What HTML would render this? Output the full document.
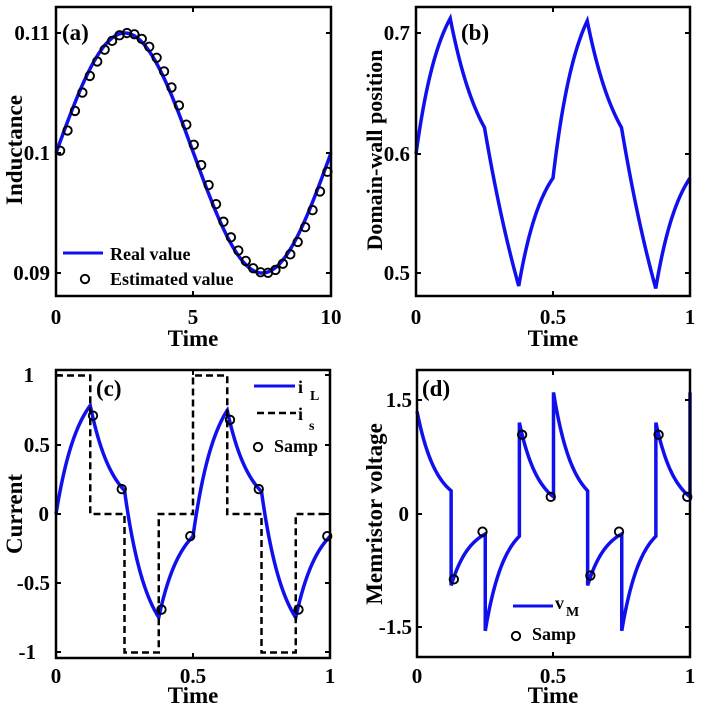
<!DOCTYPE html>
<html><head><meta charset="utf-8"><style>
html,body{margin:0;padding:0;background:#fff;}
svg{display:block;}
text{font-family:"Liberation Serif",serif;font-weight:bold;fill:#000;}
</style></head><body>
<svg id="s" width="701" height="706" xmlns="http://www.w3.org/2000/svg">
<g id="g"></g>
<g font-size="21">
<text x="50" y="40" text-anchor="end">0.11</text>
<text x="50" y="160" text-anchor="end">0.1</text>
<text x="50" y="280" text-anchor="end">0.09</text>
<text x="56" y="324" text-anchor="middle">0</text>
<text x="193" y="324" text-anchor="middle">5</text>
<text x="331" y="324" text-anchor="middle">10</text>
<text x="193" y="346" text-anchor="middle" font-size="23">Time</text>
<text transform="translate(22,150) rotate(-90)" text-anchor="middle" font-size="23">Inductance</text>
<text x="62" y="40" font-size="23">(a)</text>
<text x="110" y="260" font-size="18">Real value</text>
<text x="110" y="285" font-size="18">Estimated value</text>

<text x="410" y="40" text-anchor="end">0.7</text>
<text x="410" y="161" text-anchor="end">0.6</text>
<text x="410" y="280" text-anchor="end">0.5</text>
<text x="416" y="324" text-anchor="middle">0</text>
<text x="553" y="324" text-anchor="middle">0.5</text>
<text x="690" y="324" text-anchor="middle">1</text>
<text x="553" y="346" text-anchor="middle" font-size="23">Time</text>
<text transform="translate(382,150) rotate(-90)" text-anchor="middle" font-size="22">Domain-wall position</text>
<text x="461" y="40" font-size="23">(b)</text>

<text x="34" y="382" text-anchor="end">1</text>
<text x="50" y="452" text-anchor="end">0.5</text>
<text x="49" y="521" text-anchor="end">0</text>
<text x="50" y="590" text-anchor="end">-0.5</text>
<text x="36" y="659" text-anchor="end">-1</text>
<text x="56" y="683" text-anchor="middle">0</text>
<text x="193" y="683" text-anchor="middle">0.5</text>
<text x="330" y="683" text-anchor="middle">1</text>
<text x="193" y="703" text-anchor="middle" font-size="23">Time</text>
<text transform="translate(22,514) rotate(-90)" text-anchor="middle" font-size="23">Current</text>
<text x="96" y="396" font-size="23">(c)</text>
<text x="298" y="393" font-size="18">i</text><text x="310" y="400" font-size="14">L</text>
<text x="298" y="420" font-size="18">i</text><text x="309" y="430" font-size="14">s</text>
<text x="274" y="452" font-size="18">Samp</text>

<text x="412" y="407" text-anchor="end">1.5</text>
<text x="409" y="521" text-anchor="end">0</text>
<text x="412" y="634" text-anchor="end">-1.5</text>
<text x="417" y="683" text-anchor="middle">0</text>
<text x="553" y="683" text-anchor="middle">0.5</text>
<text x="690" y="683" text-anchor="middle">1</text>
<text x="553" y="703" text-anchor="middle" font-size="23">Time</text>
<text transform="translate(382,514) rotate(-90)" text-anchor="middle" font-size="23">Memristor voltage</text>
<text x="422" y="396" font-size="23">(d)</text>
<text x="555" y="609" font-size="18">v</text><text x="566" y="616" font-size="14">M</text>
<text x="532" y="640" font-size="18">Samp</text>
</g>
</svg>
<script>
var g=document.getElementById('g'),NS='http://www.w3.org/2000/svg';
function el(t,a){var e=document.createElementNS(NS,t);for(var k in a)e.setAttribute(k,a[k]);g.appendChild(e);return e;}
function path(pts,a){var d='M'+pts.map(function(p){return p[0].toFixed(2)+','+p[1].toFixed(2)}).join('L');a.d=d;a.fill='none';return el('path',a);}
function circ(x,y){el('circle',{cx:x,cy:y,r:4.2,fill:'none',stroke:'#000','stroke-width':1.9});}
function box(l,t,r,b,xt,yt){
  el('rect',{x:l,y:t,width:r-l,height:b-t,fill:'none',stroke:'#000','stroke-width':2.5});
  xt.forEach(function(x){el('line',{x1:x,y1:b,x2:x,y2:b-5,stroke:'#000','stroke-width':2});el('line',{x1:x,y1:t,x2:x,y2:t+5,stroke:'#000','stroke-width':2});});
  yt.forEach(function(y){el('line',{x1:l,y1:y,x2:l+5,y2:y,stroke:'#000','stroke-width':2});el('line',{x1:r,y1:y,x2:r-5,y2:y,stroke:'#000','stroke-width':2});});
}
var BL='#1010ee';
(function(){
 var X=function(t){return 56+t*27.5},Y=function(v){return 153-(v-0.1)*12000};
 var p=[];for(var i=0;i<=400;i++){var t=i/40;p.push([X(t),Y(0.1+0.01*Math.sin(2*Math.PI*t/10))]);}
 path(p,{stroke:BL,'stroke-width':3.5});
 for(var k=0;k<37;k++){var t=0.15+0.27*k;circ(X(t),Y(0.1+0.01*Math.sin(2*Math.PI*(t-0.12)/10)));}
 box(56,7,331,296,[56,193,331],[33,153,273]);
 el('line',{x1:63,y1:253,x2:103,y2:253,stroke:BL,'stroke-width':3});circ(85,279);
})();
function seg(t0,t1,v0,v1,tau,sign){
 var out=[];for(var i=0;i<=30;i++){var s=i/30,f;
  f=(1-Math.exp(-s*(t1-t0)/tau))/(1-Math.exp(-(t1-t0)/tau));
  out.push([t0+s*(t1-t0),v0+(v1-v0)*f]);}
 return out;}
(function(){
 var X=function(t){return 416+t*274},Y=function(v){return 154-(v-0.6)*1200};
 var segs=[[0,.125,.6,.713,.09,1],[.125,.25,.713,.622,.12,1],[.25,.375,.622,.49,.25,1],[.375,.5,.49,.58,.09,1],
 [.5,.625,.58,.711,.09,1],[.625,.75,.711,.622,.12,1],[.75,.875,.622,.488,.25,1],[.875,1,.488,.58,.09,1]];
 var p=[];segs.forEach(function(s){seg(s[0],s[1],s[2],s[3],s[4],s[5]).forEach(function(q){p.push([X(q[0]),Y(q[1])]);});});
 path(p,{stroke:BL,'stroke-width':3.5});
 box(416,7,690,296,[416,553,690],[33,154,273]);
})();
(function(){
 var X=function(t){return 56+t*274},Y=function(v){return 514-v*138.5};
 var is=function(t){var m=(t%0.5)/0.125;m=Math.floor(m+1e-9);return [1,0,-1,0][m%4];};
 var i=0,tau=0.082,dt=0.0005,pts=[];
 for(var t=0;t<=1.0001;t+=dt){pts.push([X(t),Y(i)]);i+=(is(t)-i)/tau*dt;}
 path(pts,{stroke:BL,'stroke-width':3.5});
 var sq=[[0,1],[.125,1],[.125,0],[.25,0],[.25,-1],[.375,-1],[.375,0],[.5,0],[.5,1],[.625,1],[.625,0],[.75,0],[.75,-1],[.875,-1],[.875,0],[1,0]];
 path(sq.map(function(q){return [X(q[0]),Y(q[1])]}),{stroke:'#000','stroke-width':2.5,'stroke-dasharray':'7,4'});
 [[.135,.71],[.24,.18],[.385,-.69],[.49,-.16],[.635,.68],[.74,.18],[.885,-.69],[.99,-.16]].forEach(function(q){circ(X(q[0]),Y(q[1]));});
 box(56,370,330,658,[56,193,330],[375,445,514,583,652]);
 el('line',{x1:254,y1:386,x2:295,y2:386,stroke:BL,'stroke-width':3});
 el('line',{x1:257,y1:413,x2:296,y2:413,stroke:'#000','stroke-width':2.5,'stroke-dasharray':'7,4'});
 circ(258,447);
})();
(function(){
 var X=function(t){return 417+t*273},Y=function(v){return 513.5-v*75.7};
 var segs=[[0,.125,1.35,.3],[.125,.25,-.95,-.27],[.25,.375,-1.55,-.3],[.375,.5,1.2,.22],
 [.5,.625,1.6,.3],[.625,.75,-.95,-.27],[.75,.875,-1.55,-.3],[.875,1,1.2,.22]];
 var p=[];segs.forEach(function(s){seg(s[0],s[1],s[2],s[3],0.07,1).forEach(function(q){p.push([X(q[0]),Y(q[1])]);});});
 p.push([X(1),Y(1.6)]);
 path(p,{stroke:BL,'stroke-width':3.5});
 [[.135,-.87],[.24,-.24],[.385,1.04],[.49,.22],[.635,-.82],[.74,-.24],[.885,1.04],[.99,.22]].forEach(function(q){circ(X(q[0]),Y(q[1]));});
 box(417,370,690,657,[417,553,690],[400,514,627]);
 el('line',{x1:513,y1:606,x2:553,y2:606,stroke:BL,'stroke-width':3});
 circ(516,636);
})();
</script>
</body></html>
